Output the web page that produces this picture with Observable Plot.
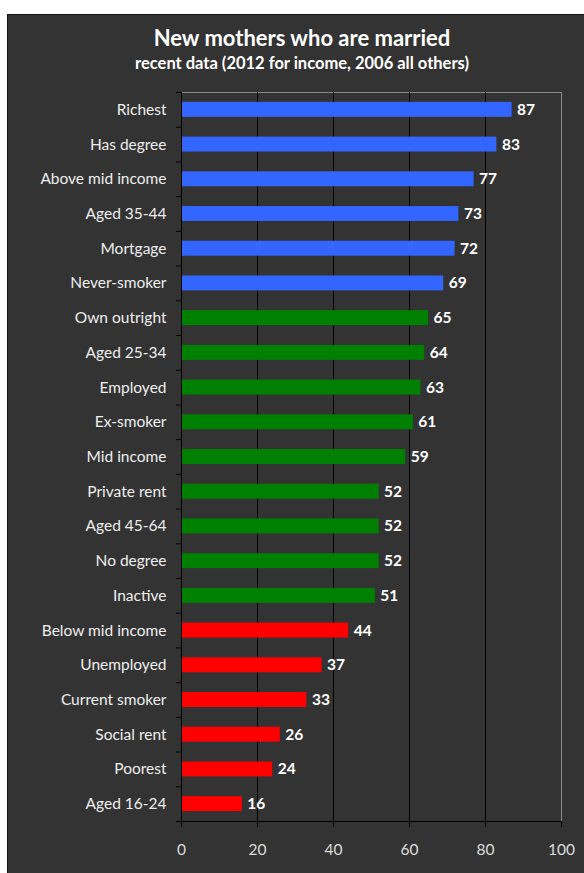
<!DOCTYPE html>
<html>
<head>
<meta charset="utf-8">
<script src="https://cdn.jsdelivr.net/npm/d3@7"></script>
<script src="https://cdn.jsdelivr.net/npm/@observablehq/plot@0.6"></script>
<style>
  html, body { margin: 0; padding: 0; background: #ffffff; width: 584px; height: 873px; overflow: hidden; }
  #card { position: absolute; left: 7px; top: 14px; width: 588px; height: 900px; background: #333333; border: 1px solid #111; font-family: Lato, "Open Sans", sans-serif; }
  #header { height: 65px; text-align: center; color: #ffffff; font-weight: bold; }
  #title { padding-top: 11px; font-size: 22px; line-height: 24px; }
  #subtitle { padding-top: 3px; font-size: 16.5px; line-height: 20px; }
</style>
</head>
<body>
<div id="card">
  <div id="header">
    <div id="title">New mothers who are married</div>
    <div id="subtitle">recent data (2012 for income, 2006 all others)</div>
  </div>
  <div id="chart"></div>
</div>
<script>
const labels = ["Richest", "Has degree", "Above mid income", "Aged 35-44", "Mortgage", "Never-smoker",
  "Own outright", "Aged 25-34", "Employed", "Ex-smoker", "Mid income", "Private rent", "Aged 45-64",
  "No degree", "Inactive", "Below mid income", "Unemployed", "Current smoker", "Social rent", "Poorest", "Aged 16-24"];
const values = [87, 83, 77, 73, 72, 69, 65, 64, 63, 61, 59, 52, 52, 52, 51, 44, 37, 33, 26, 24, 16];
const groups = ["high", "high", "high", "high", "high", "high",
  "mid", "mid", "mid", "mid", "mid", "mid", "mid", "mid", "mid",
  "low", "low", "low", "low", "low", "low"];
const groupNames = ["high", "mid", "low"];
const groupColors = ["#3366FF", "#008000", "#FF0000"];
const xTicks = [0, 20, 40, 60, 80, 100];
const gridValues = [20, 40, 60, 80];

const data = labels.map((label, i) => ({label, value: values[i], group: groups[i]}));

const width = 588, height = 793;
const marginTop = 12, marginBottom = 52, marginLeft = 173, marginRight = 35;
const step = (height - marginTop - marginBottom) / labels.length;
const tickLen = 5 / ((width - marginLeft - marginRight) / 100);

const chart = Plot.plot({
  width, height, marginTop, marginBottom, marginLeft, marginRight,
  style: {background: "transparent", color: "#eeeeee", fontFamily: "Lato, 'Open Sans', sans-serif", fontSize: "15.5px"},
  x: {domain: [0, 100], ticks: xTicks, label: null},
  y: {domain: labels, paddingInner: 0.57, paddingOuter: 0.285, round: false, label: null},
  color: {domain: groupNames, range: groupColors},
  marks: [
    Plot.frame({stroke: "#8a8a8a"}),
    Plot.ruleX(gridValues, {stroke: "#000000"}),
    Plot.barX(data, {x: "value", y: "label", fill: "group"}),
    Plot.text(data, {x: "value", y: "label", text: d => String(d.value), dx: 5, textAnchor: "start", fill: "#ffffff", fontWeight: "bold", fontSize: 15.5}),
    Plot.ruleX([0], {stroke: "#000000"}),
    Plot.ruleY(labels, {y: d => d, x1: -tickLen, x2: 0, dy: step / 2, stroke: "#000000"}),
    Plot.ruleY([labels[0]], {y: d => d, x1: -tickLen, x2: 0, dy: -step / 2, stroke: "#000000"}),
    Plot.axisY({tickSize: 0, tickPadding: 15, fill: "#eeeeee"}),
    Plot.axisX({ticks: xTicks, tickSize: 6, tickPadding: 16, stroke: "#000000", fill: "#dddddd", label: null}),
    Plot.frame({anchor: "bottom", stroke: "#000000"})
  ]
});
document.getElementById("chart").appendChild(chart);
</script>
</body>
</html>
